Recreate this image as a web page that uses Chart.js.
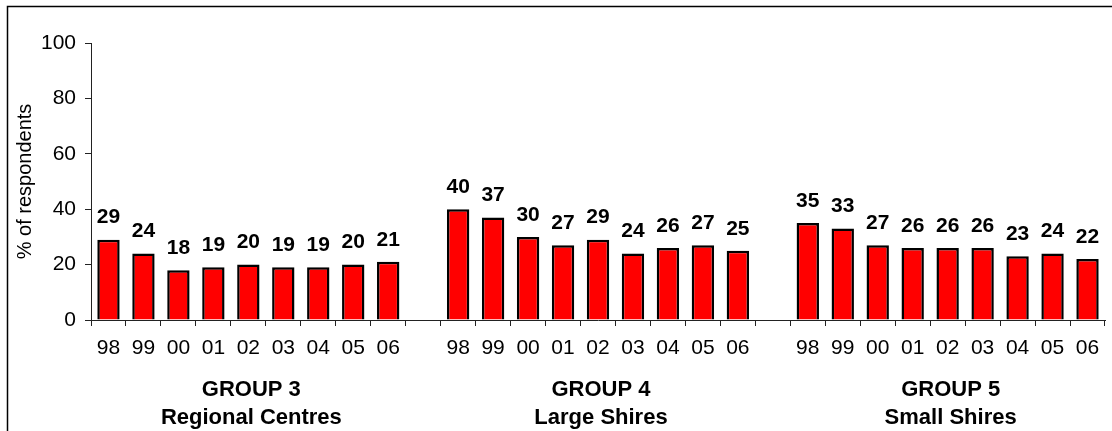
<!DOCTYPE html>
<html>
<head>
<meta charset="utf-8">
<script src="https://cdn.jsdelivr.net/npm/chart.js@4.4.1/dist/chart.umd.min.js"></script>
<style>
  html, body { margin: 0; padding: 0; background: #fff; }
  #wrap { width: 1112px; height: 431px; }
</style>
</head>
<body>
<div id="wrap"><canvas id="c" width="1112" height="431"></canvas></div>
<script>
// Survey years shown under each group
const years = ['98', '99', '00', '01', '02', '03', '04', '05', '06'];

// % of respondents per year, one array per council group
const group3 = [29, 24, 18, 19, 20, 19, 19, 20, 21];
const group4 = [40, 37, 30, 27, 29, 24, 26, 27, 25];
const group5 = [35, 33, 27, 26, 26, 26, 23, 24, 22];

const groupTitles = ['GROUP 3', 'GROUP 4', 'GROUP 5'];
const groupNames = ['Regional Centres', 'Large Shires', 'Small Shires'];

const yTicks = [0, 20, 40, 60, 80, 100];
const yTitle = '% of respondents';

// Three blocks of years separated by an empty slot
const labels = [...years, '', ...years, '', ...years];
const values = [...group3, null, ...group4, null, ...group5];
const groupCentreIndex = [4, 14, 24];

const FONT = 'Arial, "Liberation Sans", sans-serif';

const framePlugin = {
  id: 'frame',
  beforeDraw(chart) {
    const ctx = chart.ctx;
    ctx.save();
    ctx.fillStyle = '#fff';
    ctx.fillRect(0, 0, chart.width, chart.height);
    ctx.strokeStyle = '#000';
    ctx.lineWidth = 1.5;
    ctx.beginPath();
    ctx.moveTo(7.5, chart.height + 2);
    ctx.lineTo(7.5, 6.5);
    ctx.lineTo(chart.width + 2, 6.5);
    ctx.stroke();
    ctx.restore();
  }
};

const textPlugin = {
  id: 'texts',
  afterDraw(chart) {
    const ctx = chart.ctx;
    const xs = chart.scales.x;
    const ys = chart.scales.y;
    const area = chart.chartArea;
    ctx.save();
    ctx.fillStyle = '#000';
    ctx.textAlign = 'center';
    ctx.textBaseline = 'middle';

    // value labels above each bar
    ctx.font = 'bold 21px ' + FONT;
    values.forEach((v, i) => {
      if (v === null) return;
      ctx.fillText(String(v), xs.getPixelForValue(i), ys.getPixelForValue(v) - 22);
    });

    // group captions under the year labels
    ctx.font = 'bold 22px ' + FONT;
    groupCentreIndex.forEach((idx, g) => {
      const cx = xs.getPixelForValue(idx) + 3;
      ctx.fillText(groupTitles[g], cx, 390);
      ctx.fillText(groupNames[g], cx, 418);
    });

    // vertical axis title
    ctx.font = '20px ' + FONT;
    ctx.translate(25, (area.top + area.bottom) / 2);
    ctx.rotate(-Math.PI / 2);
    ctx.fillText(yTitle, 0, 0);
    ctx.restore();
  }
};

new Chart(document.getElementById('c'), {
  type: 'bar',
  data: {
    labels: labels,
    datasets: [{
      data: values,
      backgroundColor: '#ff0000',
      borderColor: '#000',
      borderWidth: 2.5,
      barPercentage: 0.64,
      categoryPercentage: 1.0
    }]
  },
  options: {
    responsive: false,
    animation: false,
    events: [],
    layout: { padding: { top: 43, right: 7, left: 0, bottom: 0 } },
    plugins: {
      legend: { display: false },
      tooltip: { enabled: false },
      title: { display: false }
    },
    scales: {
      x: {
        type: 'category',
        offset: true,
        grid: {
          offset: true,
          drawOnChartArea: false,
          drawTicks: true,
          tickLength: 6,
          color: '#222',
          lineWidth: 1
        },
        border: { color: '#222', width: 1 },
        ticks: {
          autoSkip: false,
          maxRotation: 0,
          minRotation: 0,
          color: '#000',
          padding: 10,
          font: { family: FONT, size: 21 }
        },
        afterFit(scale) { scale.height = 111; }
      },
      y: {
        min: 0,
        max: 100,
        afterBuildTicks(scale) { scale.ticks = yTicks.map(v => ({ value: v })); },
        grid: {
          drawOnChartArea: false,
          drawTicks: true,
          tickLength: 6,
          color: '#222',
          lineWidth: 1
        },
        border: { color: '#222', width: 1 },
        ticks: {
          color: '#000',
          padding: 9,
          font: { family: FONT, size: 21 }
        },
        afterFit(scale) { scale.width = 91; }
      }
    }
  },
  plugins: [framePlugin, textPlugin]
});
</script>
</body>
</html>
